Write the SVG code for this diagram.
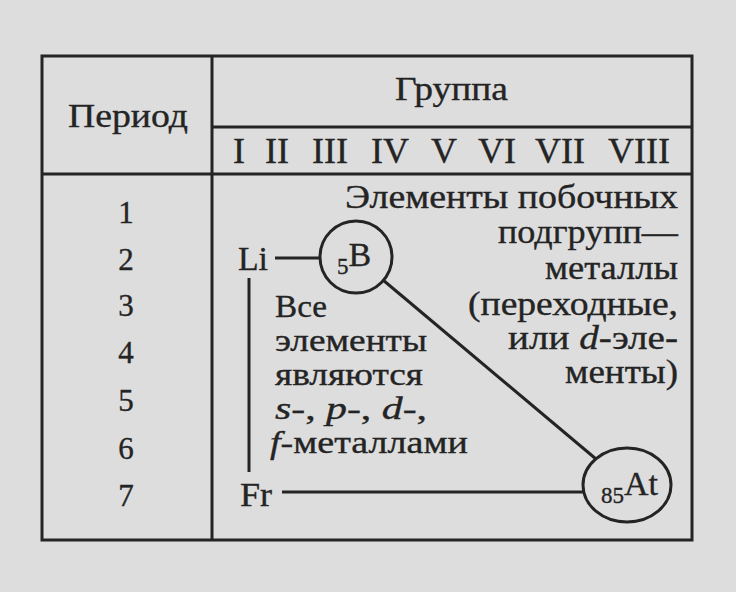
<svg xmlns="http://www.w3.org/2000/svg" width="736" height="592" viewBox="0 0 736 592">
<style>
.t{font-family:'Liberation Serif','DejaVu Serif',serif;fill:#242424;stroke:#242424;stroke-width:0.35}
.hd{font-size:33px}
.rn{font-size:36px}
.num{font-size:31px;text-anchor:middle}
.body{font-size:33px}
.body2{font-size:31px}
.el{font-size:34px}
.sub{font-size:23px}
.it{font-style:italic}
.frame{fill:none;stroke:#242424;stroke-width:3}
.conn{stroke:#242424;stroke-width:3;fill:none}
.node{fill:none;stroke:#242424;stroke-width:3}
</style>
<rect width="736" height="592" fill="#dddddd"/>
<g id="table">
<rect class="frame" x="42" y="56" width="650" height="484"/>
<line class="frame" x1="212" y1="56" x2="212" y2="540"/>
<line class="frame" x1="212" y1="127" x2="692" y2="127"/>
<line class="frame" x1="42" y1="174" x2="692" y2="174"/>
<text class="t hd" x="68" y="127" textLength="120" lengthAdjust="spacingAndGlyphs">Период</text>
<text class="t hd" x="395" y="100" textLength="113" lengthAdjust="spacingAndGlyphs">Группа</text>
<g class="t rn">
<text x="233" y="163">I</text>
<text x="265" y="163">II</text>
<text x="312" y="163">III</text>
<text x="371" y="163">IV</text>
<text x="431" y="163">V</text>
<text x="478" y="163">VI</text>
<text x="535" y="163">VII</text>
<text x="608" y="163">VIII</text>
</g>
<g class="t num">
<text x="126" y="223">1</text>
<text x="126" y="270">2</text>
<text x="126" y="316">3</text>
<text x="126" y="363">4</text>
<text x="126" y="411">5</text>
<text x="126" y="459">6</text>
<text x="126" y="506">7</text>
</g>
</g>
<g id="connectors">
<line class="conn" x1="275" y1="258" x2="320" y2="258"/>
<line class="conn" x1="383" y1="280" x2="596" y2="459"/>
<line class="conn" x1="249" y1="278" x2="249" y2="472"/>
<line class="conn" x1="282" y1="492" x2="584" y2="492"/>
</g>
<g id="node-li">
<text class="t el" x="238" y="270" textLength="30" lengthAdjust="spacingAndGlyphs">Li</text>
</g>
<g id="node-b">
<circle class="node" cx="356" cy="257" r="36"/>
<text class="t" x="337" y="274"><tspan class="sub">5</tspan><tspan class="el" y="266">B</tspan></text>
</g>
<g id="node-fr">
<text class="t el" x="240" y="506" textLength="32" lengthAdjust="spacingAndGlyphs">Fr</text>
</g>
<g id="node-at">
<ellipse class="node" cx="627" cy="485" rx="44" ry="37"/>
<text class="t" x="601" y="503"><tspan class="sub">85</tspan><tspan class="el" y="495">At</tspan></text>
</g>
<g id="text-side" class="t body">
<text x="345" y="208" textLength="333" lengthAdjust="spacingAndGlyphs">Элементы побочных</text>
<text x="498" y="243" textLength="180" lengthAdjust="spacingAndGlyphs">подгрупп—</text>
<text x="545" y="279" textLength="133" lengthAdjust="spacingAndGlyphs">металлы</text>
<text x="468" y="315" textLength="210" lengthAdjust="spacingAndGlyphs">(переходные,</text>
<text x="508" y="349" textLength="170" lengthAdjust="spacingAndGlyphs">или <tspan class="it">d</tspan>-эле-</text>
<text x="565" y="383" textLength="113" lengthAdjust="spacingAndGlyphs">менты)</text>
</g>
<g id="text-main" class="t body2">
<text x="275" y="317" textLength="52" lengthAdjust="spacingAndGlyphs">Все</text>
<text x="275" y="351" textLength="152" lengthAdjust="spacingAndGlyphs">элементы</text>
<text x="275" y="385" textLength="148" lengthAdjust="spacingAndGlyphs">являются</text>
<text x="275" y="419" textLength="152" lengthAdjust="spacingAndGlyphs"><tspan class="it">s</tspan>-, <tspan class="it">p</tspan>-, <tspan class="it">d</tspan>-,</text>
<text x="270" y="453" textLength="198" lengthAdjust="spacingAndGlyphs"><tspan class="it">f</tspan>-металлами</text>
</g>
</svg>
